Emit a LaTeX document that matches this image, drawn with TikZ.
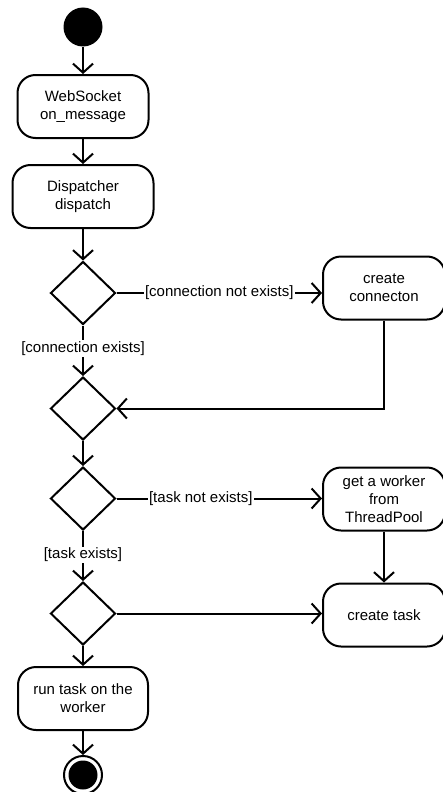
\documentclass[tikz,border=0pt]{standalone}
\usepackage{fontspec}
\setmainfont{Liberation Sans}
\usetikzlibrary{shapes.geometric,arrows.meta}
\begin{document}
\begin{tikzpicture}[x=1pt,y=-1pt,
  txt/.style={font=\fontsize{15}{18}\selectfont},
  act/.style={txt, draw, line width=2pt, rounded corners=18pt, minimum height=63pt, align=center, inner sep=2pt},
  dec/.style={draw, diamond, line width=2pt, minimum width=65pt, minimum height=63pt, inner sep=0pt},
  arr/.style={line width=2pt, -{Straight Barb[length=9pt,width=20pt,line width=2pt]}},
  lbl/.style={txt, fill=white, inner sep=1.5pt}]
\useasboundingbox (0,0) rectangle (443,792);
\clip (0,0) rectangle (443,792);
\node[circle, fill=black, minimum size=39pt, inner sep=0pt] (st) at (83,27) {};
\node[act, minimum width=131pt] (ws) at (83,106.5) {WebSocket\\on\_message};
\node[act, minimum width=141pt] (dp) at (83,196.5) {Dispatcher\\dispatch};
\node[dec] (d1) at (83,293) {};
\node[act, minimum width=122pt] (cc) at (384,288) {create\\connecton};
\node[dec] (d2) at (83,408.5) {};
\node[dec] (d3) at (83,498.5) {};
\node[act, minimum width=122pt] (gw) at (384,499) {get a worker\\from\\ThreadPool};
\node[dec] (d4) at (83,613.5) {};
\node[act, minimum width=122pt] (ct) at (384,615) {create task};
\node[act, minimum width=130pt] (rt) at (83,698.5) {run task on the\\worker};
\node[circle, draw, line width=2pt, minimum size=38pt, inner sep=0pt] (en) at (83,775) {};
\fill (en.center) circle (14.5pt);

\draw[arr] (st) -- (ws);
\draw[arr] (ws) -- (dp);
\draw[arr] (dp) -- (d1);
\draw[arr] (d1.east) -- node[lbl]{[connection not exists]} (d1.east -| cc.west);
\draw[arr] (d1) -- node[lbl,pos=0.45]{[connection exists]} (d2);
\draw[arr] (cc.south) |- (d2.east);
\draw[arr] (d2) -- (d3);
\draw[arr] (d3.east) -- node[lbl,pos=0.41]{[task not exists]} (d3.east -| gw.west);
\draw[arr] (d3) -- node[lbl,pos=0.48]{[task exists]} (d4);
\draw[arr] (gw) -- (ct);
\draw[arr] (d4.east) -- (d4.east -| ct.west);
\draw[arr] (d4) -- (rt);
\draw[arr] (rt) -- (en);
\end{tikzpicture}
\end{document}
